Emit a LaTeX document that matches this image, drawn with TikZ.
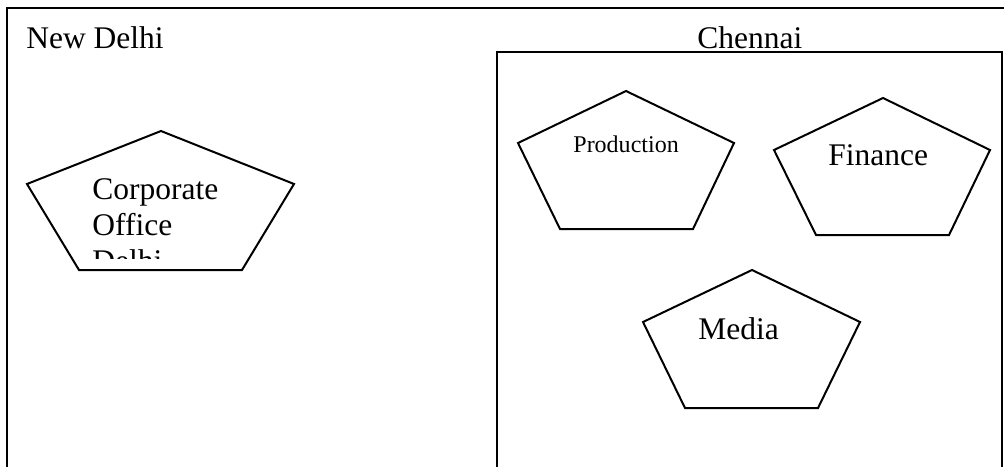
\documentclass[tikz,border=0pt]{standalone}
\usepackage{fontspec}
\setmainfont{Liberation Serif}
\begin{document}
\begin{tikzpicture}[x=0.5pt,y=-0.5pt,
  frame/.style={draw=black,line width=1pt},
  pent/.style={draw=black,line width=1pt,line join=miter},
  lbl/.style={anchor=base west,inner sep=0pt,font=\fontsize{15.75}{18}\selectfont},
  smalllbl/.style={anchor=base west,inner sep=0pt,font=\fontsize{12}{14}\selectfont}]
\useasboundingbox (0,0) rectangle (1004,466);
\begin{scope}
\clip (0,0) rectangle (1004,466);
% outer frame
\draw[frame] (6.5,7.5) rectangle (1030,490);
% Chennai box
\draw[frame] (497,51.5) rectangle (1002,490);
\end{scope}
\node[lbl] (newdelhi) at (26,48) {New Delhi};
\node[lbl] (chennai) at (697,48) {Chennai};
% Corporate office pentagon
\coordinate (c1) at (161,131);
\coordinate (c2) at (294,184);
\coordinate (c3) at (242,270);
\coordinate (c4) at (79,270);
\coordinate (c5) at (27,184);
\draw[pent] (c1) -- (c2) -- (c3) -- (c4) -- (c5) -- cycle;
\begin{scope}
\clip (0,0) rectangle (1004,258);
\node[lbl] (corp1) at (92,199) {Corporate};
\node[lbl] (corp2) at (92,235) {Office};
\node[lbl] (corp3) at (92,271) {Delhi};
\end{scope}
% Production pentagon
\coordinate (p1) at (626,91);
\coordinate (p2) at (734,143);
\coordinate (p3) at (693,229);
\coordinate (p4) at (560,229);
\coordinate (p5) at (518,143);
\draw[pent] (p1) -- (p2) -- (p3) -- (p4) -- (p5) -- cycle;
\node[smalllbl] (production) at (573,152) {Production};
% Finance pentagon
\coordinate (f1) at (883,98);
\coordinate (f2) at (990,150);
\coordinate (f3) at (949,235);
\coordinate (f4) at (816,235);
\coordinate (f5) at (774,150);
\draw[pent] (f1) -- (f2) -- (f3) -- (f4) -- (f5) -- cycle;
\node[lbl] (finance) at (828,165) {Finance};
% Media pentagon
\coordinate (m1) at (752,270);
\coordinate (m2) at (860,322);
\coordinate (m3) at (818,408);
\coordinate (m4) at (685,408);
\coordinate (m5) at (643,322);
\draw[pent] (m1) -- (m2) -- (m3) -- (m4) -- (m5) -- cycle;
\node[lbl] (media) at (698,339) {Media};
\end{tikzpicture}
\end{document}
